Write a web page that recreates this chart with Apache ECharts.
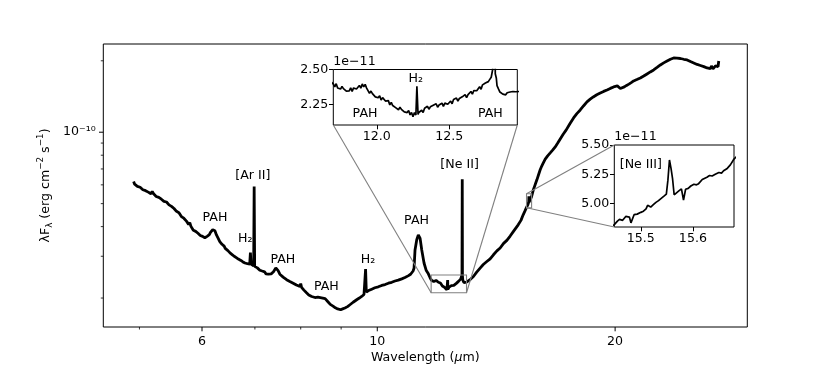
<!DOCTYPE html>
<html>
<head>
<meta charset="utf-8">
<script src="https://cdn.jsdelivr.net/npm/echarts@6/dist/echarts.min.js"></script>
<style>
  html, body { margin: 0; background: #fff; }
  #chart { width: 830px; height: 369px; }
</style>
</head>
<body>
<div id="chart"></div>
<script>
// spectrum, [wavelength (um), lambda F_lambda in units of 1e-11 erg cm-2 s-1]
const FLUX_UNIT = 1e-11;

const blueSegment = [
  [4.916, 6.20], [4.93, 6.04], [4.95, 6.07], [4.97, 5.91], [4.99, 6.00], [5.01, 5.86], [5.03, 5.89],
  [5.05, 5.72], [5.07, 5.77], [5.09, 5.67], [5.11, 5.74], [5.13, 5.59], [5.15, 5.64], [5.17, 5.50],
  [5.19, 5.62], [5.21, 5.50], [5.23, 5.53], [5.25, 5.36], [5.27, 5.41], [5.29, 5.31], [5.31, 5.38],
  [5.33, 5.22], [5.35, 5.26], [5.37, 5.11], [5.39, 5.20], [5.41, 5.08], [5.43, 5.10], [5.45, 4.94],
  [5.47, 4.98], [5.49, 4.87], [5.51, 4.94], [5.53, 4.77], [5.55, 4.80], [5.57, 4.64], [5.59, 4.72],
  [5.61, 4.58], [5.63, 4.59], [5.65, 4.41], [5.67, 4.45], [5.69, 4.34], [5.71, 4.40], [5.73, 4.23],
  [5.75, 4.25], [5.77, 4.08], [5.79, 4.16], [5.81, 4.01], [5.83, 4.02], [5.85, 3.86], [5.87, 3.91],
  [5.89, 3.82], [5.91, 3.89], [5.93, 3.75], [5.95, 3.80], [5.97, 3.67], [5.99, 3.73], [6.01, 3.64],
  [6.03, 3.69], [6.05, 3.59], [6.07, 3.65], [6.09, 3.64], [6.11, 3.71], [6.13, 3.70], [6.15, 3.78],
  [6.17, 3.82], [6.19, 3.88], [6.209, 3.94], [6.23, 3.84], [6.258, 3.69], [6.29, 3.57], [6.319, 3.46],
  [6.34, 3.44], [6.36, 3.37], [6.38, 3.35], [6.40, 3.31], [6.42, 3.24], [6.444, 3.23], [6.47, 3.17],
  [6.49, 3.16], [6.51, 3.10], [6.53, 3.11], [6.55, 3.05], [6.569, 3.05], [6.59, 3.00], [6.61, 3.00],
  [6.63, 2.96], [6.65, 2.97], [6.67, 2.92], [6.698, 2.93], [6.72, 2.88], [6.74, 2.88], [6.76, 2.84],
  [6.78, 2.86], [6.80, 2.81], [6.831, 2.82], [6.85, 2.79], [6.87, 2.81], [6.895, 2.78], [6.909, 3.11],
  [6.922, 2.78], [6.94, 2.76], [6.96, 2.75], [6.975, 2.73], [6.985, 5.90], [6.995, 2.72], [7.01, 2.72],
  [7.03, 2.68], [7.05, 2.68], [7.07, 2.64], [7.101, 2.62], [7.13, 2.58], [7.15, 2.60], [7.18, 2.56],
  [7.20, 2.58], [7.23, 2.53], [7.25, 2.56], [7.28, 2.52], [7.311, 2.51], [7.34, 2.53], [7.36, 2.56],
  [7.39, 2.58], [7.419, 2.63], [7.44, 2.68], [7.456, 2.72], [7.47, 2.64], [7.49, 2.61], [7.51, 2.56],
  [7.528, 2.52], [7.56, 2.49], [7.60, 2.45], [7.64, 2.43], [7.677, 2.39], [7.71, 2.38], [7.75, 2.35],
  [7.79, 2.34], [7.826, 2.31], [7.86, 2.29], [7.90, 2.27], [7.94, 2.26], [7.98, 2.24], [8.00, 2.30],
  [8.02, 2.22], [8.05, 2.18], [8.075, 2.16], [8.098, 2.13], [8.13, 2.11], [8.16, 2.08], [8.19, 2.06],
  [8.217, 2.045], [8.26, 2.03], [8.30, 2.01], [8.34, 2.01], [8.379, 2.00], [8.41, 2.02], [8.44, 2.03],
  [8.47, 2.01], [8.502, 2.02], [8.53, 2.00], [8.56, 1.99], [8.59, 1.99], [8.627, 1.97], [8.66, 1.93],
  [8.69, 1.91], [8.72, 1.88], [8.754, 1.86], [8.79, 1.85], [8.82, 1.83], [8.85, 1.82], [8.883, 1.815],
  [8.91, 1.80], [8.94, 1.79], [8.96, 1.78], [8.987, 1.785], [9.01, 1.79], [9.04, 1.80], [9.07, 1.81],
  [9.10, 1.815], [9.13, 1.83], [9.17, 1.84], [9.20, 1.86], [9.234, 1.874], [9.28, 1.90], [9.32, 1.92],
  [9.37, 1.94], [9.417, 1.967], [9.45, 1.99], [9.49, 2.00], [9.52, 2.01], [9.555, 2.031], [9.59, 2.05],
  [9.62, 2.07], [9.647, 2.085], [9.665, 2.65], [9.685, 2.12], [9.712, 2.132], [9.75, 2.15], [9.80, 2.17],
  [9.84, 2.18], [9.884, 2.203], [9.93, 2.21], [9.98, 2.22], [10.03, 2.23], [10.079, 2.238], [10.13, 2.26],
  [10.18, 2.27], [10.23, 2.28], [10.278, 2.297], [10.33, 2.31], [10.38, 2.32], [10.43, 2.33],
  [10.478, 2.349], [10.53, 2.36], [10.58, 2.37], [10.63, 2.38], [10.685, 2.388], [10.74, 2.41],
  [10.79, 2.42], [10.84, 2.44], [10.896, 2.451], [10.94, 2.48], [10.98, 2.50], [11.02, 2.52],
  [11.056, 2.548], [11.10, 2.60], [11.131, 2.675], [11.163, 3.19], [11.219, 3.52], [11.271, 3.69],
  [11.327, 3.58], [11.384, 3.19], [11.46, 2.81], [11.53, 2.62], [11.605, 2.53], [11.66, 2.44]
];

// 11.7 - 12.97 um, shown in the first inset
const neIIWindow = [
  [11.70, 2.397], [11.71, 2.377], [11.72, 2.399], [11.73, 2.369], [11.74, 2.381], [11.75, 2.361],
  [11.76, 2.380], [11.77, 2.364], [11.78, 2.378], [11.79, 2.347], [11.80, 2.357], [11.81, 2.348],
  [11.82, 2.370], [11.83, 2.345], [11.84, 2.369], [11.85, 2.378], [11.86, 2.362], [11.87, 2.372],
  [11.88, 2.387], [11.89, 2.368], [11.90, 2.397], [11.91, 2.377], [11.92, 2.394], [11.93, 2.368],
  [11.94, 2.366], [11.95, 2.331], [11.96, 2.347], [11.97, 2.329], [11.98, 2.340], [11.99, 2.306],
  [12.00, 2.314], [12.01, 2.299], [12.02, 2.314], [12.03, 2.283], [12.04, 2.300], [12.05, 2.303],
  [12.06, 2.276], [12.07, 2.275], [12.08, 2.279], [12.09, 2.249], [12.10, 2.267], [12.11, 2.244],
  [12.12, 2.258], [12.13, 2.229], [12.14, 2.237], [12.15, 2.214], [12.16, 2.233], [12.17, 2.217],
  [12.18, 2.230], [12.19, 2.199], [12.20, 2.209], [12.21, 2.194], [12.22, 2.209], [12.23, 2.178],
  [12.24, 2.195], [12.25, 2.165], [12.26, 2.194], [12.27, 2.177], [12.277, 2.380], [12.285, 2.180],
  [12.29, 2.195], [12.30, 2.188], [12.31, 2.211], [12.32, 2.194], [12.33, 2.225], [12.34, 2.213],
  [12.35, 2.239], [12.36, 2.218], [12.37, 2.235], [12.38, 2.222], [12.39, 2.246], [12.40, 2.237],
  [12.41, 2.257], [12.42, 2.232], [12.43, 2.248], [12.44, 2.239], [12.45, 2.261], [12.46, 2.238],
  [12.47, 2.261], [12.48, 2.270], [12.49, 2.253], [12.50, 2.261], [12.51, 2.276], [12.52, 2.257],
  [12.53, 2.287], [12.54, 2.273], [12.55, 2.297], [12.56, 2.276], [12.57, 2.294], [12.58, 2.281],
  [12.59, 2.306], [12.60, 2.297], [12.61, 2.322], [12.62, 2.301], [12.63, 2.322], [12.64, 2.317],
  [12.65, 2.344], [12.66, 2.325], [12.67, 2.351], [12.68, 2.363], [12.69, 2.349], [12.70, 2.361],
  [12.71, 2.378], [12.72, 2.360], [12.73, 2.391], [12.74, 2.378], [12.75, 2.404], [12.76, 2.390],
  [12.77, 2.414], [12.78, 2.430], [12.79, 2.445], [12.80, 2.500], [12.81, 6.34], [12.818, 2.470],
  [12.825, 2.440], [12.83, 2.385], [12.84, 2.362], [12.85, 2.340], [12.86, 2.348], [12.87, 2.325],
  [12.88, 2.338], [12.89, 2.320], [12.90, 2.335], [12.91, 2.322], [12.92, 2.340], [12.93, 2.327],
  [12.94, 2.344], [12.95, 2.331], [12.96, 2.342], [12.97, 2.334]
];

const midSegment = [
  [13.042, 2.349], [13.12, 2.40], [13.234, 2.465], [13.36, 2.57], [13.495, 2.675], [13.62, 2.77],
  [13.761, 2.851], [13.895, 2.927], [14.029, 3.043], [14.17, 3.16], [14.306, 3.25], [14.45, 3.40],
  [14.588, 3.50], [14.73, 3.65], [14.872, 3.82], [15.078, 4.07], [15.20, 4.25], [15.299, 4.485],
  [15.38, 4.66]
];

// 15.45 - 15.68 um, shown in the second inset
const neIIIWindow = [
  [15.449, 4.82], [15.455, 4.85], [15.459, 4.865], [15.465, 4.857], [15.471, 4.89], [15.478, 4.885],
  [15.481, 4.835], [15.487, 4.905], [15.493, 4.91], [15.500, 4.925], [15.505, 4.935], [15.510, 4.955],
  [15.513, 4.985], [15.519, 4.97], [15.524, 4.99], [15.529, 5.01], [15.534, 5.025], [15.538, 5.04],
  [15.545, 5.065], [15.549, 5.08], [15.552, 5.20], [15.555, 5.372], [15.558, 5.30], [15.561, 5.21],
  [15.564, 5.075], [15.567, 5.065], [15.573, 5.108], [15.578, 5.125], [15.582, 5.03], [15.586, 5.122],
  [15.591, 5.13], [15.596, 5.15], [15.602, 5.165], [15.607, 5.16], [15.611, 5.17], [15.618, 5.205],
  [15.621, 5.19], [15.627, 5.225], [15.632, 5.24], [15.637, 5.235], [15.643, 5.25], [15.650, 5.265],
  [15.655, 5.26], [15.659, 5.28], [15.666, 5.30], [15.672, 5.33], [15.679, 5.38]
];

const redSegment = [
  [15.752, 5.69], [15.84, 6.00], [15.923, 6.30], [16.00, 6.62], [16.077, 6.95], [16.15, 7.20],
  [16.20, 7.35], [16.314, 7.70], [16.43, 7.95], [16.554, 8.18], [16.68, 8.42], [16.797, 8.67],
  [16.92, 9.00], [17.044, 9.37], [17.19, 9.80], [17.345, 10.23], [17.53, 10.86], [17.719, 11.49],
  [17.89, 11.98], [18.068, 12.41], [18.25, 12.93], [18.425, 13.42], [18.60, 13.78], [18.767, 14.08],
  [18.96, 14.38], [19.154, 14.64], [19.34, 14.86], [19.533, 15.07], [19.72, 15.30], [19.912, 15.52],
  [20.02, 15.64], [20.129, 15.67], [20.22, 15.45], [20.306, 15.29], [20.42, 15.40], [20.543, 15.52],
  [20.68, 15.75], [20.82, 15.95], [20.96, 16.18], [21.109, 16.45], [21.31, 16.68], [21.526, 16.93],
  [21.74, 17.25], [21.951, 17.60], [22.16, 17.95], [22.378, 18.30], [22.60, 18.75], [22.82, 19.21],
  [23.04, 19.60], [23.27, 19.96], [23.50, 20.30], [23.723, 20.55], [23.95, 20.52], [24.191, 20.45],
  [24.43, 20.30], [24.669, 20.16], [24.91, 19.85], [25.149, 19.58], [25.40, 19.30], [25.646, 19.11],
  [25.90, 18.90], [26.152, 18.65], [26.30, 18.95], [26.40, 18.55], [26.482, 19.02], [26.60, 18.50],
  [26.715, 18.56], [26.80, 19.05], [26.926, 19.21], [27.00, 18.90], [27.052, 19.96]
];

// axis ranges
const mainX = [4.5, 29.4];
const mainY = [1.51e-11, 2.354e-10];
const neIIX = [11.70, 12.97];
const neIIY = [2.106, 2.50];
const neIIIX = [15.449, 15.679];
const neIIIY = [4.80, 5.50];

// ticks
const xMajorTicks = [6, 10, 20];
const xMinorTicks = [5, 7, 8, 9];
const yMajorTicks = [1e-10];
const yMinorTicks = [2e-11, 3e-11, 4e-11, 5e-11, 6e-11, 7e-11, 8e-11, 9e-11, 2e-10];
const neIIXTicks = [12.0, 12.5];
const neIIYTicks = [2.25, 2.50];
const neIIIXTicks = [15.5, 15.6];
const neIIIYTicks = [5.00, 5.25, 5.50];

// line labels (wavelength, flux, text)
const mainNotes = [
  [6.23, 4.36e-11, 'PAH'], [6.807, 3.553e-11, 'H₂'], [6.958, 6.546e-11, '[Ar II]'],
  [7.594, 2.913e-11, 'PAH'], [8.622, 2.231e-11, 'PAH'], [9.732, 2.913e-11, 'H₂'],
  [11.212, 4.252e-11, 'PAH'], [12.711, 7.283e-11, '[Ne II]']
];
const neIINotes = [[11.919, 2.184, 'PAH'], [12.270, 2.433, 'H₂'], [12.784, 2.184, 'PAH']];
const neIIINotes = [[15.5, 5.33, '[Ne III]']];

const spectrum = [].concat(blueSegment, neIIWindow, midSegment, neIIIWindow, redSegment);
const mainData = spectrum.map(p => [p[0], p[1] * FLUX_UNIT]);

const FS = 12.6;
const FAM = 'DejaVu Sans';
const FONT = FS + 'px "DejaVu Sans"';
const GREY = '#808080';

const chart = echarts.init(document.getElementById('chart'));

const hidden = {
  axisLine: { show: false }, axisTick: { show: false },
  axisLabel: { show: false }, splitLine: { show: false }
};

// inset axes use the library's custom tick values
const insetAxis = (grid, range, ticks, digits) => ({
  gridIndex: grid, type: 'value', min: range[0], max: range[1],
  axisLine: { show: false },
  splitLine: { show: false },
  axisTick: { show: true, customValues: ticks, length: 4.3, lineStyle: { color: '#000', width: 1 } },
  axisLabel: {
    show: true, customValues: ticks, margin: 5, color: '#000',
    fontFamily: FAM, fontSize: FS, formatter: v => v.toFixed(digits)
  }
});

const lineSeries = (idx, data, width) => ({
  type: 'line', xAxisIndex: idx, yAxisIndex: idx, data: data,
  symbol: 'none', silent: true, animation: false, clip: true,
  lineStyle: { color: '#000', width: width }
});

chart.setOption({
  animation: false,
  grid: [
    { left: 103.3, top: 44, width: 644, height: 283.3, show: true, borderColor: '#000', borderWidth: 1 },
    { left: 333.3, top: 69.5, width: 184, height: 55.5, show: true, borderColor: '#000', borderWidth: 1, backgroundColor: '#fff' },
    { left: 614.3, top: 145, width: 119.7, height: 82, show: true, borderColor: '#000', borderWidth: 1, backgroundColor: '#fff' }
  ],
  xAxis: [
    Object.assign({
      gridIndex: 0, type: 'log', logBase: 10, min: mainX[0], max: mainX[1],
      name: '{a|Wavelength (}{i|μ}{a|m)}', nameLocation: 'middle', nameGap: 24,
      nameTextStyle: {
        color: '#000', fontFamily: FAM, fontSize: FS,
        rich: { a: { fontFamily: FAM, fontSize: FS }, i: { fontFamily: FAM, fontSize: FS, fontStyle: 'italic' } }
      }
    }, hidden),
    insetAxis(1, neIIX, neIIXTicks, 1),
    insetAxis(2, neIIIX, neIIIXTicks, 1)
  ],
  yAxis: [
    Object.assign({
      gridIndex: 0, type: 'log', logBase: 10, min: mainY[0], max: mainY[1],
      name: '{a|λF}{s|λ}{a| (erg cm}{p|−2}{a| s}{p|−1}{a|)}', nameLocation: 'middle', nameGap: 49,
      nameTextStyle: {
        color: '#000', fontFamily: FAM, fontSize: FS,
        rich: {
          a: { fontFamily: FAM, fontSize: FS, lineHeight: 18 },
          s: { fontFamily: FAM, fontSize: 8.8, lineHeight: 9, verticalAlign: 'bottom' },
          p: { fontFamily: FAM, fontSize: 8.8, lineHeight: 9, verticalAlign: 'top' }
        }
      }
    }, hidden),
    insetAxis(1, neIIY, neIIYTicks, 2),
    insetAxis(2, neIIIY, neIIIYTicks, 2)
  ],
  series: [
    lineSeries(0, mainData, 2.8),
    lineSeries(1, spectrum, 1.7),
    lineSeries(2, spectrum, 1.7)
  ]
});

// ticks, labels, zoom boxes and connectors placed through the grids' scales
const toPx = (g, p) => chart.convertToPixel({ gridIndex: g }, p);
const els = [];
const seg = (a, b, color, w) => els.push({
  type: 'line', z: 100, silent: true,
  shape: { x1: a[0], y1: a[1], x2: b[0], y2: b[1] },
  style: { stroke: color, lineWidth: w }
});
const txt = (p, text, align, valign, font) => els.push({
  type: 'text', z: 100, silent: true, x: p[0], y: p[1],
  style: {
    text: text, font: font || FONT, fill: '#000',
    align: align, verticalAlign: valign, textAlign: align, textVerticalAlign: valign
  }
});

const lowLeft = toPx(0, [mainX[0], mainY[0]]);
xMajorTicks.forEach(v => {
  const x = toPx(0, [v, mainY[0]])[0];
  seg([x, lowLeft[1]], [x, lowLeft[1] + 4.3], '#000', 1);
  txt([x, lowLeft[1] + 8.3], String(v), 'center', 'top');
});
xMinorTicks.forEach(v => {
  const x = toPx(0, [v, mainY[0]])[0];
  seg([x, lowLeft[1]], [x, lowLeft[1] + 2.5], '#000', 0.8);
});
yMajorTicks.forEach(v => {
  const y = toPx(0, [mainX[0], v])[1];
  seg([lowLeft[0] - 4.3, y], [lowLeft[0], y], '#000', 1);
  txt([lowLeft[0] - 7.5, y], '10⁻¹⁰', 'right', 'middle');
});
yMinorTicks.forEach(v => {
  const y = toPx(0, [mainX[0], v])[1];
  seg([lowLeft[0] - 2.5, y], [lowLeft[0], y], '#000', 0.8);
});

mainNotes.forEach(n => txt(toPx(0, [n[0], n[1]]), n[2], 'center', 'middle'));
neIINotes.forEach(n => txt(toPx(1, [n[0], n[1]]), n[2], 'center', 'middle'));
neIIINotes.forEach(n => txt(toPx(2, [n[0], n[1]]), n[2], 'center', 'middle'));

// offset text above each inset
[[1, neIIX, neIIY], [2, neIIIX, neIIIY]].forEach(([g, xr, yr]) => {
  const p = toPx(g, [xr[0], yr[1]]);
  txt([p[0], p[1] - 8], '1e−11', 'left', 'middle');
});

// zoomed regions on the main axes and their connectors
const box = (xr, yr) => {
  const tl = toPx(0, [xr[0], yr[1] * FLUX_UNIT]);
  const br = toPx(0, [xr[1], yr[0] * FLUX_UNIT]);
  els.push({
    type: 'rect', z: 100, silent: true,
    shape: { x: tl[0], y: tl[1], width: br[0] - tl[0], height: br[1] - tl[1] },
    style: { fill: 'none', stroke: GREY, lineWidth: 1.1 }
  });
  return { tl: tl, br: br, bl: [tl[0], br[1]], tr: [br[0], tl[1]] };
};
const b1 = box(neIIX, neIIY);
seg(toPx(1, [neIIX[0], neIIY[0]]), b1.bl, GREY, 1.1);
seg(toPx(1, [neIIX[1], neIIY[0]]), b1.br, GREY, 1.1);
const b2 = box(neIIIX, neIIIY);
seg(toPx(2, [neIIIX[0], neIIIY[1]]), b2.tl, GREY, 1.1);
seg(toPx(2, [neIIIX[0], neIIIY[0]]), b2.bl, GREY, 1.1);

chart.setOption({ graphic: { elements: els } });
</script>
</body>
</html>
